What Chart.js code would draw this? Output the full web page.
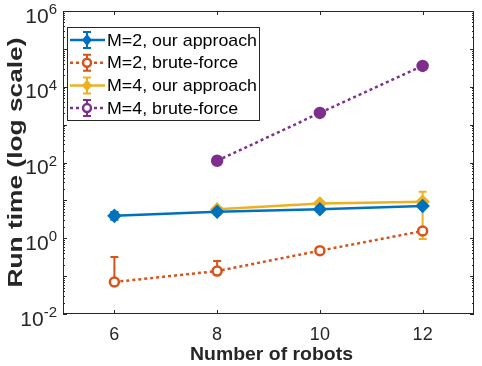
<!DOCTYPE html>
<html>
<head>
<meta charset="utf-8">
<script src="https://cdn.jsdelivr.net/npm/chart.js@4/dist/chart.umd.min.js"></script>
<style>
  html, body { margin: 0; padding: 0; background: #fff; }
</style>
</head>
<body>
<canvas id="chart" width="482" height="366"></canvas>
<script>
// values
const robots = [6, 8, 10, 12];
const m2Ours = [3.9, 5.0, 5.8, 7.1];
const m2OursLow = [3.1, 4.3, 5.0, 6.3];
const m2OursHigh = [4.9, 5.8, 6.7, 8.0];
const m2Brute = [0.07, 0.136, 0.47, 1.55];
const m2BruteLow = [0.07, 0.13, 0.45, 1.5];
const m2BruteHigh = [0.32, 0.25, 0.5, 1.6];
const m4Robots = [8, 10, 12];
const m4Ours = [5.8, 8.3, 9.2];
const m4OursLow = [5.2, 7.4, 0.95];
const m4OursHigh = [6.5, 9.5, 17];
const m4Brute = [111, 2040, 35500];
const m4BruteLow = [108, 2000, 35000];
const m4BruteHigh = [114, 2080, 36000];
const yTicks = [1e-2, 1e0, 1e2, 1e4, 1e6];
const yExponents = ['-2', '0', '2', '4', '6'];
const xTicks = [6, 8, 10, 12];
const seriesNames = ['M=2, our approach', 'M=2, brute-force', 'M=4, our approach', 'M=4, brute-force'];

const colors = ['#0072BD', '#D95319', '#EDB120', '#7E2F8E'];
const font = "'Liberation Sans', Arial, sans-serif";
const ink = '#262626';

function pts(xs, ys) {
    return xs.map(function(x, i) { return { x: x, y: ys[i] }; });
}

const errs = [
    { lo: m2OursLow, hi: m2OursHigh, xs: robots },
    { lo: m2BruteLow, hi: m2BruteHigh, xs: robots },
    { lo: m4OursLow, hi: m4OursHigh, xs: m4Robots },
    { lo: m4BruteLow, hi: m4BruteHigh, xs: m4Robots }
];

// text drawn a little wider, like the saved figure
function wideText(ctx, text, x, y, f, targetW, align) {
    ctx.font = f;
    const w = ctx.measureText(text).width;
    const sx = targetW ? targetW / w : 1;
    ctx.save();
    ctx.translate(x, y);
    ctx.scale(sx, 1);
    ctx.textAlign = align || 'left';
    ctx.fillText(text, 0, 0);
    ctx.restore();
}

const matlabLook = {
    id: 'matlabLook',
    beforeDatasetsDraw(chart) {
        const ctx = chart.ctx;
        const xs = chart.scales.x, ys = chart.scales.y;
        ctx.save();
        errs.forEach(function(e, d) {
            ctx.strokeStyle = colors[d];
            ctx.lineWidth = 2;
            e.xs.forEach(function(x, i) {
                const px = xs.getPixelForValue(x);
                const p1 = ys.getPixelForValue(e.lo[i]);
                const p2 = ys.getPixelForValue(e.hi[i]);
                ctx.beginPath();
                ctx.moveTo(px, p1); ctx.lineTo(px, p2);
                ctx.moveTo(px - 4, p1); ctx.lineTo(px + 4, p1);
                ctx.moveTo(px - 4, p2); ctx.lineTo(px + 4, p2);
                ctx.stroke();
            });
        });
        ctx.restore();
    },
    afterDraw(chart) {
        const ctx = chart.ctx;
        const a = chart.chartArea;
        const xs = chart.scales.x, ys = chart.scales.y;
        ctx.save();

        // box and inward ticks
        ctx.strokeStyle = ink;
        ctx.lineWidth = 1;
        ctx.strokeRect(a.left + 0.5, a.top + 0.5, a.right - a.left - 1, a.bottom - a.top - 1);
        ctx.beginPath();
        xTicks.forEach(function(t) {
            const px = Math.round(xs.getPixelForValue(t)) + 0.5;
            ctx.moveTo(px, a.bottom); ctx.lineTo(px, a.bottom - 4);
            ctx.moveTo(px, a.top); ctx.lineTo(px, a.top + 4);
        });
        for (let e = -2; e < 6; e++) {
            for (let k = 1; k < 10; k++) {
                const py = Math.round(ys.getPixelForValue(k * Math.pow(10, e))) + 0.5;
                const len = k === 1 ? 4 : 2;
                ctx.moveTo(a.left, py); ctx.lineTo(a.left + len, py);
                ctx.moveTo(a.right, py); ctx.lineTo(a.right - len, py);
            }
        }
        ctx.stroke();

        // tick labels
        ctx.fillStyle = ink;
        ctx.textBaseline = 'alphabetic';
        xTicks.forEach(function(t) {
            wideText(ctx, String(t), xs.getPixelForValue(t), a.bottom + 26, '18px ' + font, 0, 'center');
        });
        yTicks.forEach(function(t, i) {
            const py = ys.getPixelForValue(t);
            const right = a.left - 6;
            ctx.font = '15px ' + font;
            const supW = ctx.measureText(yExponents[i]).width;
            wideText(ctx, yExponents[i], right, py + 3, '15px ' + font, 0, 'right');
            wideText(ctx, '10', right - supW, py + 11.5, '21px ' + font, 0, 'right');
        });

        // axis titles
        wideText(ctx, 'Number of robots', (a.left + a.right) / 2 + 3, 360, 'bold 19px ' + font, 163, 'center');
        ctx.save();
        ctx.translate(22, (a.top + a.bottom) / 2);
        ctx.rotate(-Math.PI / 2);
        wideText(ctx, 'Run time (log scale)', 0, 0, 'bold 20px ' + font, 250, 'center');
        ctx.restore();

        // legend
        const lx = 67, ly = 27, lw = 192, lh = 93;
        ctx.fillStyle = '#fff';
        ctx.fillRect(lx, ly, lw, lh);
        ctx.strokeStyle = ink;
        ctx.strokeRect(lx + 0.5, ly + 0.5, lw, lh);
        ctx.font = '17px ' + font;
        const sx = 150 / ctx.measureText(seriesNames[0]).width;
        seriesNames.forEach(function(name, i) {
            const y = ly + 13 + i * 22.7;
            const dotted = i % 2 === 1;
            ctx.strokeStyle = colors[i];
            ctx.lineWidth = 2.5;
            ctx.setLineDash(dotted ? [3, 3] : []);
            ctx.beginPath();
            ctx.moveTo(lx + 3, y); ctx.lineTo(lx + 38, y);
            ctx.stroke();
            ctx.setLineDash([]);
            ctx.lineWidth = 2;
            const cx = lx + 20;
            ctx.beginPath();
            ctx.moveTo(cx, y - 8); ctx.lineTo(cx, y + 8);
            ctx.moveTo(cx - 4, y - 8); ctx.lineTo(cx + 4, y - 8);
            ctx.moveTo(cx - 4, y + 8); ctx.lineTo(cx + 4, y + 8);
            ctx.stroke();
            ctx.beginPath();
            if (dotted) {
                ctx.fillStyle = '#fff';
                ctx.arc(cx, y, 4, 0, Math.PI * 2);
                ctx.fill();
                ctx.lineWidth = 2.5;
                ctx.stroke();
            } else {
                ctx.fillStyle = colors[i];
                ctx.moveTo(cx, y - 6); ctx.lineTo(cx + 5, y); ctx.lineTo(cx, y + 6); ctx.lineTo(cx - 5, y);
                ctx.closePath();
                ctx.fill();
            }
            ctx.fillStyle = '#000';
            ctx.textBaseline = 'middle';
            wideText(ctx, name, lx + 40, y + 1, '17px ' + font, ctx.measureText(name).width * sx, 'left');
            ctx.font = '17px ' + font;
        });
        ctx.restore();
    }
};

new Chart(document.getElementById('chart').getContext('2d'), {
    type: 'line',
    data: {
        datasets: [
            { label: seriesNames[0], data: pts(robots, m2Ours), borderColor: colors[0], backgroundColor: colors[0],
              borderWidth: 2.5, pointStyle: 'rectRot', pointRadius: 5.5 },
            { label: seriesNames[1], data: pts(robots, m2Brute), borderColor: colors[1], backgroundColor: '#fff',
              borderWidth: 2.5, borderDash: [3, 3], pointStyle: 'circle', pointRadius: 4.5, pointBorderWidth: 2.5 },
            { label: seriesNames[2], data: pts(m4Robots, m4Ours), borderColor: colors[2], backgroundColor: colors[2],
              borderWidth: 2.5, pointStyle: 'rectRot', pointRadius: 5.5 },
            { label: seriesNames[3], data: pts(m4Robots, m4Brute), borderColor: colors[3], backgroundColor: colors[3],
              borderWidth: 2.5, borderDash: [3, 3], pointStyle: 'circle', pointRadius: 5 }
        ]
    },
    options: {
        responsive: false,
        animation: false,
        layout: { padding: { left: 0, right: 2, top: 11, bottom: 0 } },
        plugins: { legend: { display: false }, tooltip: { enabled: false } },
        scales: {
            x: {
                type: 'linear', min: 5, max: 13,
                afterBuildTicks: function(s) { s.ticks = xTicks.map(function(v) { return { value: v }; }); },
                afterFit: function(s) { s.height = 52; },
                grid: { display: false, drawTicks: false },
                border: { display: false },
                ticks: { display: false }
            },
            y: {
                type: 'logarithmic', min: 1e-2, max: 1e6,
                afterBuildTicks: function(s) { s.ticks = yTicks.map(function(v) { return { value: v }; }); },
                afterFit: function(s) { s.width = 63; },
                grid: { display: false, drawTicks: false },
                border: { display: false },
                ticks: { display: false }
            }
        }
    },
    plugins: [matlabLook]
});
</script>
</body>
</html>
